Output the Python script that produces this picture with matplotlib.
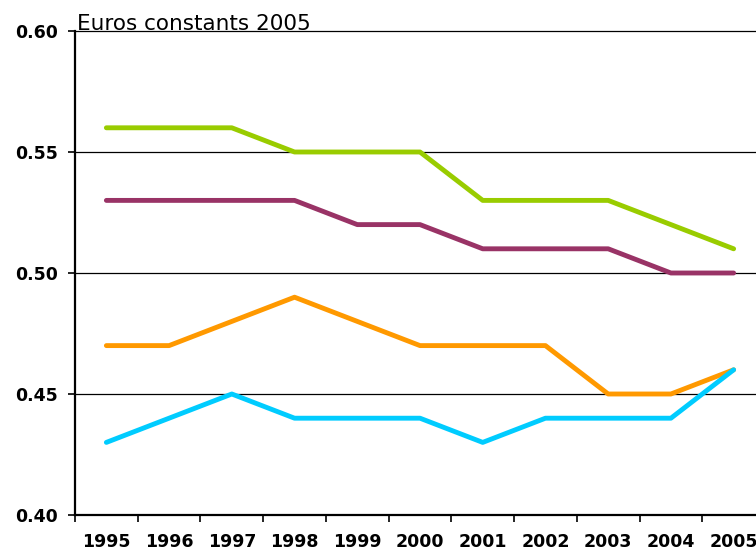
import numpy as np
import matplotlib
matplotlib.use("Agg")
import matplotlib.pyplot as plt

years = ['1995', '1996', '1997', '1998', '1999', '2000',
         '2001', '2002', '2003', '2004', '2005']
green = [0.56, 0.56, 0.56, 0.55, 0.55, 0.55, 0.53, 0.53, 0.53, 0.52, 0.51]
purple = [0.53, 0.53, 0.53, 0.53, 0.52, 0.52, 0.51, 0.51, 0.51, 0.50, 0.50]
orange = [0.47, 0.47, 0.48, 0.49, 0.48, 0.47, 0.47, 0.47, 0.45, 0.45, 0.46]
cyan = [0.43, 0.44, 0.45, 0.44, 0.44, 0.44, 0.43, 0.44, 0.44, 0.44, 0.46]
yticks = [0.40, 0.45, 0.50, 0.55, 0.60]

fig = plt.figure(figsize=(7.56, 5.51), dpi=100)
# plot area runs past the right edge, like the cropped original
ax = fig.add_axes([75/756, 1-515/551, 690/756, (515-31)/551])

x = np.arange(len(years))
for vals, col in [(green, '#99CC00'), (purple, '#993366'),
                  (orange, '#FF9900'), (cyan, '#00CCFF')]:
    ax.plot(x, vals, color=col, lw=3.5, solid_joinstyle='round',
            solid_capstyle='round', zorder=3)

ax.set_xlim(-0.5, len(years) - 0.5)
ax.set_ylim(0.40, 0.60)

# horizontal gridlines
for v in yticks[1:]:
    ax.axhline(v, color='black', lw=0.9, zorder=1, clip_on=False)

ax.spines['top'].set_visible(False)
ax.spines['right'].set_visible(False)
ax.spines['left'].set_linewidth(1.6)
ax.spines['bottom'].set_linewidth(1.6)

ax.set_yticks(yticks)
ax.set_yticklabels(['%.2f' % v for v in yticks], fontsize=12.5, fontweight='bold')
ax.tick_params(axis='y', length=5, width=1.2, pad=7)

ax.set_xticks(x)
ax.set_xticklabels(years, fontsize=12.5, fontweight='bold')
ax.tick_params(axis='x', which='major', length=0, pad=13)
ax.set_xticks(np.arange(-0.5, len(years)), minor=True)
ax.tick_params(axis='x', which='minor', length=5, width=1.2)

fig.text(77/756, 1-30/551, 'Euros constants 2005', fontsize=15.5,
         va='baseline', ha='left')

fig.savefig('out.png', dpi=100)
